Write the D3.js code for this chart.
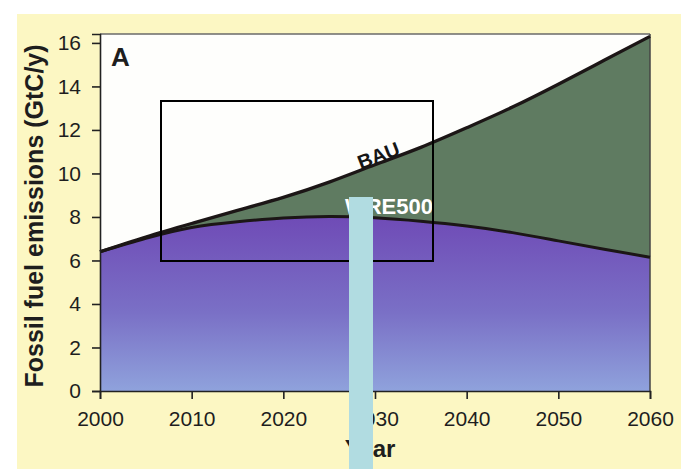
<!DOCTYPE html>
<html>
<head>
<meta charset="utf-8">
<script src="https://cdn.jsdelivr.net/npm/d3@7"></script>
<style>
  html, body { margin: 0; padding: 0; background: #ffffff; }
  svg { display: block; }
  text { font-family: "Liberation Sans", Arial, Helvetica, sans-serif; }
</style>
</head>
<body>
<svg id="chart" width="681" height="469"></svg>
<script>
// Fossil fuel emissions scenarios (GtC/y), 2000–2060
const years = [2000, 2005, 2010, 2015, 2020, 2025, 2030, 2035, 2040, 2045, 2050, 2055, 2060];
const bauValues = [6.4, 7.08, 7.7, 8.3, 8.9, 9.6, 10.4, 11.2, 12.1, 13.05, 14.1, 15.2, 16.3];
const wre500Values = [6.4, 7.02, 7.52, 7.78, 7.95, 8.02, 7.96, 7.8, 7.58, 7.28, 6.9, 6.52, 6.15];
const yTicks = [0, 2, 4, 6, 8, 10, 12, 14, 16];
const xTicks = [2000, 2010, 2020, 2030, 2040, 2050, 2060];

const svg = d3.select("#chart");
const W = 681, H = 469;
const plot = { left: 100, right: 650, top: 34, bottom: 391 };

const x = d3.scaleLinear().domain([2000, 2060]).range([plot.left, plot.right]);
const y = d3.scaleLinear().domain([0, 16.41]).range([plot.bottom, plot.top]);

const rows = years.map((yr, i) => ({ year: yr, bau: bauValues[i], wre: wre500Values[i] }));

// page background: cream panel with a white margin at top and left
svg.append("rect").attr("x", 0).attr("y", 0).attr("width", W).attr("height", H).attr("fill", "#ffffff");
svg.append("rect").attr("x", 17).attr("y", 14).attr("width", W - 17).attr("height", H - 14).attr("fill", "#fcf7c3");

const defs = svg.append("defs");
const grad = defs.append("linearGradient")
  .attr("id", "wreFill").attr("gradientUnits", "userSpaceOnUse")
  .attr("x1", 0).attr("x2", 0).attr("y1", y(8)).attr("y2", y(0));
grad.append("stop").attr("offset", "0%").attr("stop-color", "#6f4bb6");
grad.append("stop").attr("offset", "55%").attr("stop-color", "#7a70c6");
grad.append("stop").attr("offset", "100%").attr("stop-color", "#8fa2dc");

// plot background
svg.append("rect")
  .attr("x", plot.left).attr("y", plot.top)
  .attr("width", plot.right - plot.left).attr("height", plot.bottom - plot.top)
  .attr("fill", "#fefefc");

const curve = d3.curveNatural;

// gap between BAU and WRE500
svg.append("path").datum(rows)
  .attr("fill", "#5f7b61")
  .attr("d", d3.area().curve(curve).x(d => x(d.year)).y0(d => y(d.wre)).y1(d => y(d.bau)));

// WRE500 emissions
svg.append("path").datum(rows)
  .attr("fill", "url(#wreFill)")
  .attr("d", d3.area().curve(curve).x(d => x(d.year)).y0(y(0)).y1(d => y(d.wre)));

// frame top and right
svg.append("line").attr("x1", plot.left).attr("x2", plot.right).attr("y1", plot.top).attr("y2", plot.top)
  .attr("stroke", "#6a6a6a").attr("stroke-width", 1.5);
svg.append("line").attr("x1", plot.right).attr("x2", plot.right).attr("y1", plot.top).attr("y2", plot.bottom)
  .attr("stroke", "#444").attr("stroke-width", 1.5);

// scenario lines
svg.append("path").datum(rows)
  .attr("fill", "none").attr("stroke", "#1c1616").attr("stroke-width", 3)
  .attr("d", d3.line().curve(curve).x(d => x(d.year)).y(d => y(d.wre)));
svg.append("path").datum(rows)
  .attr("fill", "none").attr("stroke", "#1c1616").attr("stroke-width", 3.3)
  .attr("d", d3.line().curve(curve).x(d => x(d.year)).y(d => y(d.bau)));

// axes
const yAxis = svg.append("g").attr("transform", `translate(${plot.left},0)`)
  .call(d3.axisLeft(y).tickValues(yTicks).tickSize(8).tickPadding(11).tickFormat(d3.format("d")));
const xAxis = svg.append("g").attr("transform", `translate(0,${plot.bottom})`)
  .call(d3.axisBottom(x).tickValues(xTicks).tickSize(8).tickPadding(12).tickFormat(d3.format("d")));
[yAxis, xAxis].forEach(g => {
  g.select(".domain").attr("stroke", "#222").attr("stroke-width", 1.6);
  g.selectAll(".tick line").attr("stroke", "#222").attr("stroke-width", 1.6);
  g.selectAll(".tick text").attr("fill", "#1e1e1e")
    .style("font-size", "21px").style("font-family", "'Liberation Sans', Arial, sans-serif");
});

// axis titles
svg.append("text")
  .attr("transform", `translate(43,216) rotate(-90)`)
  .attr("text-anchor", "middle")
  .style("font-size", "25px").style("font-weight", "bold").attr("fill", "#1e1e1e")
  .text("Fossil fuel emissions (GtC/y)");
svg.append("text")
  .attr("x", 370).attr("y", 457).attr("text-anchor", "middle")
  .style("font-size", "24px").style("font-weight", "bold").attr("fill", "#1e1e1e")
  .text("Year");

// panel letter
svg.append("text").attr("x", 111).attr("y", 66)
  .style("font-size", "26px").style("font-weight", "bold").attr("fill", "#1e1e1e")
  .text("A");

// series labels
svg.append("text")
  .attr("transform", "translate(381,162) rotate(-21)")
  .attr("text-anchor", "middle")
  .style("font-size", "20px").style("font-weight", "bold").attr("fill", "#161616")
  .text("BAU");
svg.append("text")
  .attr("x", 433).attr("y", 214).attr("text-anchor", "end")
  .style("font-size", "22px").style("font-weight", "bold").attr("fill", "#ffffff")
  .text("WRE500");

// highlight box and marker bar
svg.append("rect")
  .attr("x", 161).attr("y", 101).attr("width", 272).attr("height", 160)
  .attr("fill", "none").attr("stroke", "#000").attr("stroke-width", 2);
svg.append("rect")
  .attr("x", 349).attr("y", 197).attr("width", 24).attr("height", H - 197)
  .attr("fill", "#b1dce1");
</script>
</body>
</html>
